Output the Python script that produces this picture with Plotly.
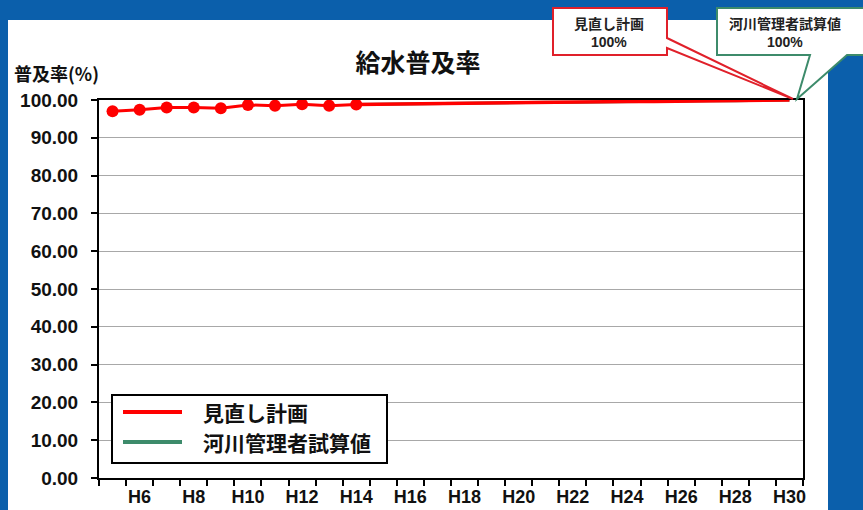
import plotly.graph_objects as go

# ---- data ----
years = list(range(5, 31))                      # Heisei years H5..H30
tick_years = list(range(6, 31, 2))
tick_labels = ["H%d" % y for y in tick_years]

actual_years = list(range(5, 15))               # H5..H14 (markers)
actual_values = [97.0, 97.4, 98.0, 98.0, 97.8, 98.7, 98.5, 98.9, 98.5, 98.8]

plan_years = list(range(14, 31))                # H14..H30 projection
plan_values = [98.8, 98.9, 99.0, 99.1, 99.2, 99.3, 99.3, 99.4, 99.4,
               99.5, 99.6, 99.6, 99.7, 99.8, 99.8, 99.9, 100.0]

river_years = list(range(14, 31))
river_values = [98.8, 98.9, 99.0, 99.1, 99.2, 99.3, 99.3, 99.4, 99.4,
                99.5, 99.6, 99.6, 99.7, 99.8, 99.8, 99.9, 100.0]

series_names = ["見直し計画", "河川管理者試算値"]
callout_values = ["100%", "100%"]
title_text = "給水普及率"
yaxis_title = "普及率(%)"

RED = "#ff0000"
GREEN = "#3d8b6b"
FONT = "Liberation Sans, Noto Sans CJK JP, sans-serif"
CJK = "Noto Sans CJK JP, sans-serif"

W, H = 863, 510
L, R, T, B = 99, 60, 100, 32
PW, PH = W - L - R, H - T - B


def px(x):
    return (x - L) / PW


def py(y):
    return 1 - (y - T) / PH


fig = go.Figure()

fig.add_trace(go.Scatter(x=river_years, y=river_values, mode="lines",
                         line=dict(color=GREEN, width=3), name=series_names[1],
                         showlegend=False))
fig.add_trace(go.Scatter(x=plan_years, y=plan_values, mode="lines",
                         line=dict(color=RED, width=3.5), name=series_names[0],
                         showlegend=False))
fig.add_trace(go.Scatter(x=actual_years, y=actual_values, mode="lines+markers",
                         line=dict(color=RED, width=3),
                         marker=dict(color=RED, size=12),
                         name=series_names[0], showlegend=False))

shapes = []
# white slide panel
shapes.append(dict(type="rect", xref="paper", yref="paper", layer="below",
                   x0=px(8), x1=px(828), y0=py(520), y1=py(20),
                   fillcolor="white", line=dict(width=0)))


def poly(points):
    d = "M " + " L ".join("%f,%f" % (px(a), py(b)) for a, b in points) + " Z"
    return d


# red callout
shapes.append(dict(type="path", xref="paper", yref="paper", layer="above",
                   path=poly([(553, 8), (667, 8), (667, 38), (793, 99), (667, 48),
                              (667, 55), (553, 55)]),
                   fillcolor="white", line=dict(color="#e0202a", width=2)))
# green callout
shapes.append(dict(type="path", xref="paper", yref="paper", layer="above",
                   path=poly([(717, 8), (880, 8), (880, 55), (847, 55), (797, 99),
                              (810, 55), (717, 55)]),
                   fillcolor="white", line=dict(color=GREEN, width=2)))

# legend box
shapes.append(dict(type="rect", xref="paper", yref="paper", layer="above",
                   x0=px(112), x1=px(387), y0=py(463), y1=py(395),
                   fillcolor="white", line=dict(color="black", width=2)))
legend_rows = [(412, RED, series_names[0]), (442, GREEN, series_names[1])]
annotations = []
for yy, col, name in legend_rows:
    shapes.append(dict(type="line", xref="paper", yref="paper", layer="above",
                       x0=px(123), x1=px(182), y0=py(yy), y1=py(yy),
                       line=dict(color=col, width=4)))
    annotations.append(dict(xref="paper", yref="paper", x=px(201), y=py(yy),
                            text=name, showarrow=False, xanchor="left",
                            yanchor="middle",
                            font=dict(family=CJK, size=21, color="#111",
                                      weight="bold")))

# callout texts (one annotation per line)
for cx, name, val in [(609, series_names[0], callout_values[0]),
                      (785, series_names[1], callout_values[1])]:
    annotations.append(dict(xref="paper", yref="paper", x=px(cx), y=py(23),
                            text=name, showarrow=False, xanchor="center",
                            yanchor="middle",
                            font=dict(family=CJK, size=14, color="#222",
                                      weight="bold")))
    annotations.append(dict(xref="paper", yref="paper", x=px(cx), y=py(42),
                            text=val, showarrow=False, xanchor="center",
                            yanchor="middle",
                            font=dict(family=FONT, size=14, color="#222",
                                      weight="bold")))
# y axis title
annotations.append(dict(xref="paper", yref="paper", x=px(56), y=py(73),
                        text=yaxis_title, showarrow=False, xanchor="center",
                        yanchor="middle",
                        font=dict(family=CJK, size=18, color="#111", weight="bold")))

fig.update_layout(
    width=W, height=H,
    margin=dict(l=L, r=R, t=T, b=B),
    paper_bgcolor="#0b5fab",
    plot_bgcolor="white",
    showlegend=False,
    title=dict(text=title_text, xref="container", yref="container",
               x=418 / W, y=1 - 63 / H, xanchor="center", yanchor="middle",
               font=dict(family=CJK, size=25, color="#111", weight="bold")),
    shapes=shapes,
    annotations=annotations,
)

fig.update_xaxes(
    type="linear", range=[4.5, 30.5], automargin=False,
    tickmode="array", tickvals=tick_years, ticktext=tick_labels,
    ticks="", showgrid=False, zeroline=False,
    showline=True, linecolor="black", linewidth=2, mirror=True,
    ticklabelstandoff=1,
    tickfont=dict(family=FONT, size=18, color="#111", weight="bold"),
    minor=dict(tickmode="linear", tick0=4.5, dtick=1, ticks="outside",
               ticklen=6, tickcolor="black", tickwidth=1.5, showgrid=False),
)
fig.update_yaxes(
    range=[0, 100], tickmode="linear", tick0=0, dtick=10, tickformat=".2f",
    automargin=False,
    ticks="outside", ticklen=6, tickcolor="black", tickwidth=1.5,
    showgrid=True, gridcolor="#a8a8a8", gridwidth=1, zeroline=False,
    showline=True, linecolor="black", linewidth=2, mirror=True,
    ticklabelstandoff=9,
    tickfont=dict(family=FONT, size=19, color="#111", weight="bold"),
)

fig.write_html("out.html")
